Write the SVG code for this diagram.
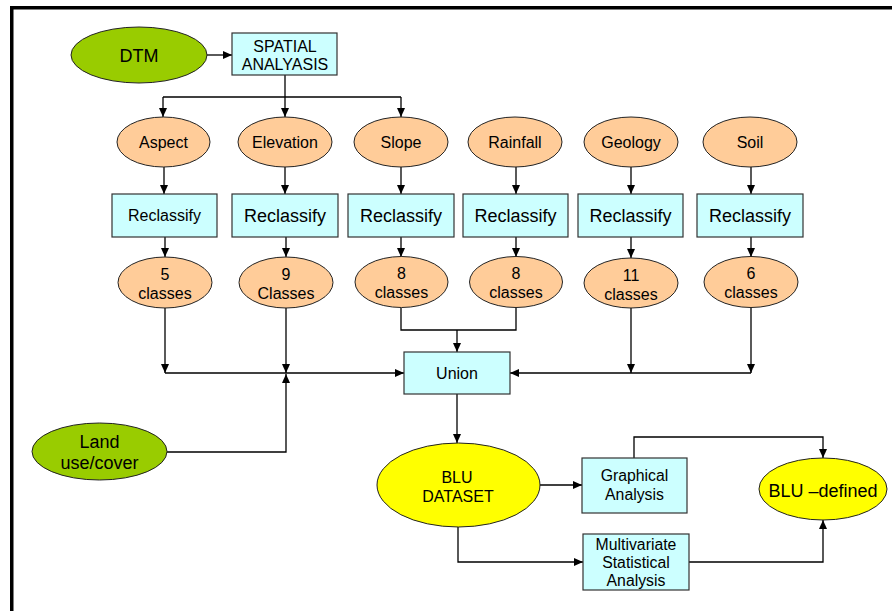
<svg xmlns="http://www.w3.org/2000/svg" width="892" height="611" viewBox="0 0 892 611">
<style>
text{font-family:"Liberation Sans",Arial,sans-serif;fill:#000;text-anchor:middle}
.el{fill:#ffcc99;stroke:#222;stroke-width:1}
.bx{fill:#ccffff;stroke:#333;stroke-width:1.2}
.gr{fill:#99cc00;stroke:#222;stroke-width:1}
.ye{fill:#ffff00;stroke:#222;stroke-width:1}
.c{fill:none;stroke:#000;stroke-width:1.3}
.a{marker-end:url(#ah)}
.f16{font-size:16px}
.f18{font-size:18px}
.f15{font-size:15.8px}
</style>
<defs>
<marker id="ah" markerUnits="userSpaceOnUse" markerWidth="10" markerHeight="8" refX="9" refY="4" orient="auto">
<path d="M0,0 L9,4 L0,8 Z" fill="#000"/>
</marker>
</defs>
<rect width="892" height="611" fill="#fff"/>
<path d="M11.75,611 V7.75 H892" fill="none" stroke="#000" stroke-width="3.5"/>

<g id="connectors">
<path class="c a" d="M207,55 H232"/>
<path class="c a" d="M285,75 V117"/>
<path class="c" d="M163,97 H401"/>
<path class="c a" d="M163,97 V117"/>
<path class="c a" d="M401,97 V117"/>
<path class="c a" d="M164,167 V194"/>
<path class="c a" d="M285,167 V194"/>
<path class="c a" d="M401,167 V194"/>
<path class="c a" d="M516,167 V194"/>
<path class="c a" d="M631,167 V194"/>
<path class="c a" d="M751,167 V194"/>
<path class="c a" d="M165,237 V257"/>
<path class="c a" d="M286,237 V257"/>
<path class="c a" d="M401,237 V257"/>
<path class="c a" d="M516,237 V257"/>
<path class="c a" d="M631,237 V258"/>
<path class="c a" d="M751,237 V257"/>
<path class="c a" d="M165,308 V373"/>
<path class="c a" d="M286,308 V373"/>
<path class="c a" d="M165,373 H404"/>
<path class="c a" d="M167,452 H286 V374"/>
<path class="c" d="M401,308 V330 H516 V308"/>
<path class="c a" d="M457,330 V352"/>
<path class="c a" d="M631,308 V373"/>
<path class="c a" d="M751,308 V373"/>
<path class="c a" d="M751,373 H510"/>
<path class="c a" d="M457,394 V443"/>
<path class="c a" d="M540,485 H582"/>
<path class="c a" d="M634,458 V437 H823 V458"/>
<path class="c a" d="M458,527 V562 H583"/>
<path class="c a" d="M689,562 H823 V520"/>
</g>

<g id="dtm"><ellipse class="gr" cx="139" cy="55" rx="68" ry="28"/><text class="f18" x="139" y="61.5">DTM</text></g>
<g id="spatial"><rect class="bx" x="232" y="33" width="105" height="42"/><text class="f16" x="285" y="52">SPATIAL</text><text class="f16" x="285" y="70">ANALYASIS</text></g>

<g id="aspect"><ellipse class="el" cx="163.5" cy="142" rx="46.5" ry="25"/><text class="f16" x="163.5" y="147.5">Aspect</text></g>
<g id="elevation"><ellipse class="el" cx="285" cy="142" rx="47" ry="25"/><text class="f16" x="285" y="147.5">Elevation</text></g>
<g id="slope"><ellipse class="el" cx="401" cy="142" rx="47" ry="25"/><text class="f16" x="401" y="147.5">Slope</text></g>
<g id="rainfall"><ellipse class="el" cx="515" cy="142" rx="47" ry="25"/><text class="f16" x="515" y="147.5">Rainfall</text></g>
<g id="geology"><ellipse class="el" cx="631" cy="142" rx="47" ry="25"/><text class="f16" x="631" y="147.5">Geology</text></g>
<g id="soil"><ellipse class="el" cx="750" cy="142" rx="47" ry="25"/><text class="f16" x="750" y="147.5">Soil</text></g>

<g id="reclass1"><rect class="bx" x="112" y="194" width="105" height="43"/><text class="f16" x="164.5" y="221">Reclassify</text></g>
<g id="reclass2"><rect class="bx" x="232" y="194" width="106" height="43"/><text class="f18" x="285" y="222">Reclassify</text></g>
<g id="reclass3"><rect class="bx" x="348" y="194" width="106" height="43"/><text class="f18" x="401" y="222">Reclassify</text></g>
<g id="reclass4"><rect class="bx" x="463" y="194" width="105" height="43"/><text class="f18" x="515.5" y="222">Reclassify</text></g>
<g id="reclass5"><rect class="bx" x="578" y="194" width="105" height="43"/><text class="f18" x="630.5" y="222">Reclassify</text></g>
<g id="reclass6"><rect class="bx" x="697" y="194" width="106" height="43"/><text class="f18" x="750" y="222">Reclassify</text></g>

<g id="classes5"><ellipse class="el" cx="165" cy="282.5" rx="47" ry="25.5"/><text class="f16" x="165" y="280">5</text><text class="f16" x="165" y="299">classes</text></g>
<g id="classes9"><ellipse class="el" cx="286" cy="282.5" rx="47" ry="25.5"/><text class="f16" x="286" y="280">9</text><text class="f16" x="286" y="299">Classes</text></g>
<g id="classes8a"><ellipse class="el" cx="401.5" cy="282" rx="46.5" ry="25.5"/><text class="f16" x="401.5" y="278.5">8</text><text class="f16" x="401.5" y="298">classes</text></g>
<g id="classes8b"><ellipse class="el" cx="516" cy="282" rx="46.5" ry="25.5"/><text class="f16" x="516" y="278.5">8</text><text class="f16" x="516" y="298">classes</text></g>
<g id="classes11"><ellipse class="el" cx="631" cy="283" rx="47" ry="25"/><text class="f16" x="631" y="281">11</text><text class="f16" x="631" y="300">classes</text></g>
<g id="classes6"><ellipse class="el" cx="751" cy="282" rx="47" ry="25.5"/><text class="f16" x="751" y="278.5">6</text><text class="f16" x="751" y="298">classes</text></g>

<g id="union"><rect class="bx" x="404" y="352" width="106" height="42"/><text class="f16" x="457" y="378.5">Union</text></g>
<g id="landuse"><ellipse class="gr" cx="99.5" cy="451.5" rx="67.5" ry="28.5"/><text class="f18" x="99.5" y="448">Land</text><text class="f18" x="99.5" y="469">use/cover</text></g>
<g id="bludataset"><ellipse class="ye" cx="458.5" cy="485" rx="81.5" ry="42"/><text class="f16" x="457" y="483">BLU</text><text class="f16" x="458" y="502">DATASET</text></g>
<g id="graphical"><rect class="bx" x="582" y="458" width="105" height="55"/><text class="f15" x="634.5" y="481">Graphical</text><text class="f15" x="634.5" y="500">Analysis</text></g>
<g id="multivariate"><rect class="bx" x="583" y="534" width="106" height="56"/><text class="f15" x="636" y="550">Multivariate</text><text class="f15" x="636" y="568">Statistical</text><text class="f15" x="636" y="586">Analysis</text></g>
<g id="bludefined"><ellipse class="ye" cx="823" cy="489" rx="64" ry="31"/><text class="f18" x="823" y="497">BLU –defined</text></g>
</svg>
